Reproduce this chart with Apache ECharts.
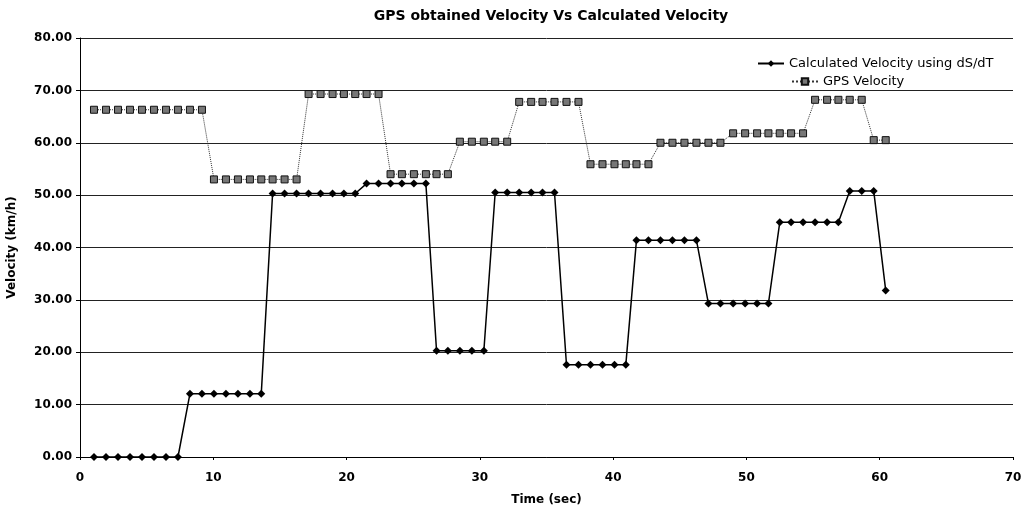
<!DOCTYPE html>
<html>
<head>
<meta charset="utf-8">
<title>GPS obtained Velocity Vs Calculated Velocity</title>
<script src="https://cdn.jsdelivr.net/npm/echarts@6/dist/echarts.min.js"></script>
<style>
  html, body { margin: 0; padding: 0; background: #fff; }
  #chart { width: 1021px; height: 508px; }
</style>
</head>
<body>
<div id="chart"></div>
<script>
'use strict';

// time stamps (sec), shared by both series
var timeSec = [
    1.05, 1.95, 2.85, 3.75, 4.65, 5.55, 6.45, 7.35,
    8.25, 9.15, 10.05, 10.95, 11.85, 12.75, 13.6,
    14.45, 15.35, 16.25, 17.15, 18.05, 18.95, 19.8, 20.65,
    21.5, 22.4, 23.3, 24.15, 25.05, 25.95,
    26.75, 27.6, 28.5, 29.4, 30.3,
    31.15, 32.05, 32.95, 33.85, 34.7, 35.6,
    36.5, 37.4, 38.3, 39.2, 40.1, 40.95,
    41.75, 42.65, 43.55, 44.45, 45.35, 46.25,
    47.15, 48.05, 49.0, 49.9, 50.8, 51.65,
    52.5, 53.35, 54.25, 55.15, 56.05, 56.9,
    57.75, 58.65, 59.55,
    60.45
];

// velocity calculated from dS/dT (km/h)
var calcVelocity = [
    0, 0, 0, 0, 0, 0, 0, 0,
    12.1, 12.1, 12.1, 12.1, 12.1, 12.1, 12.1,
    50.3, 50.3, 50.3, 50.3, 50.3, 50.3, 50.3, 50.3,
    52.2, 52.2, 52.2, 52.2, 52.2, 52.2,
    20.3, 20.3, 20.3, 20.3, 20.3,
    50.5, 50.5, 50.5, 50.5, 50.5, 50.5,
    17.6, 17.6, 17.6, 17.6, 17.6, 17.6,
    41.4, 41.4, 41.4, 41.4, 41.4, 41.4,
    29.3, 29.3, 29.3, 29.3, 29.3, 29.3,
    44.8, 44.8, 44.8, 44.8, 44.8, 44.8,
    50.8, 50.8, 50.8,
    31.8
];

// velocity reported by GPS (km/h)
var gpsVelocity = [
    66.3, 66.3, 66.3, 66.3, 66.3, 66.3, 66.3, 66.3, 66.3, 66.3,
    53.0, 53.0, 53.0, 53.0, 53.0, 53.0, 53.0, 53.0,
    69.3, 69.3, 69.3, 69.3, 69.3, 69.3, 69.3,
    54.0, 54.0, 54.0, 54.0, 54.0, 54.0,
    60.2, 60.2, 60.2, 60.2, 60.2,
    67.8, 67.8, 67.8, 67.8, 67.8, 67.8,
    55.9, 55.9, 55.9, 55.9, 55.9, 55.9,
    60.0, 60.0, 60.0, 60.0, 60.0, 60.0,
    61.8, 61.8, 61.8, 61.8, 61.8, 61.8, 61.8,
    68.2, 68.2, 68.2, 68.2, 68.2,
    60.5, 60.5
];

var seriesNames = ['Calculated Velocity using dS/dT', 'GPS Velocity'];

function zip(xs, ys) {
    var out = [];
    for (var i = 0; i < xs.length; i++) {
        out.push([xs[i], ys[i]]);
    }
    return out;
}

var font = 'DejaVu Sans';
var chart = echarts.init(document.getElementById('chart'), null, {renderer: 'canvas'});

chart.setOption({
    animation: false,
    backgroundColor: '#fff',
    title: {
        text: 'GPS obtained Velocity Vs Calculated Velocity',
        left: 546,
        textAlign: 'center',
        top: 4,
        textStyle: {fontFamily: font, fontSize: 14, fontWeight: 'bold', color: '#000'}
    },
    legend: [{
        data: [seriesNames[0]],
        orient: 'vertical',
        left: 752,
        top: 52,
        itemWidth: 26,
        itemHeight: 8,
        textStyle: {fontFamily: font, fontSize: 13, color: '#000'}
    }, {
        data: [seriesNames[1]],
        orient: 'vertical',
        left: 786,
        top: 70,
        itemWidth: 26,
        itemHeight: 8,
        textStyle: {fontFamily: font, fontSize: 13, color: '#000'}
    }],
    grid: {left: 80, right: 8, top: 38, bottom: 51, outerBoundsMode: 'none', containLabel: false},
    xAxis: {
        type: 'value',
        min: 0,
        max: 70,
        interval: 10,
        name: 'Time (sec)',
        nameLocation: 'middle',
        nameGap: 37,
        nameTextStyle: {fontFamily: font, fontSize: 12, fontWeight: 'bold', color: '#000'},
        axisLine: {lineStyle: {color: '#000', width: 1}},
        axisTick: {show: true, length: 3, lineStyle: {color: '#000'}},
        axisLabel: {fontFamily: font, fontSize: 12, fontWeight: 'bold', color: '#000', margin: 15},
        splitLine: {show: false}
    },
    yAxis: {
        type: 'value',
        min: 0,
        max: 80,
        interval: 10,
        name: 'Velocity (km/h)',
        nameLocation: 'middle',
        nameRotate: 90,
        nameGap: 62,
        nameTextStyle: {fontFamily: font, fontSize: 12, fontWeight: 'bold', color: '#000'},
        axisLine: {show: true, lineStyle: {color: '#000', width: 1}},
        axisTick: {show: true, length: 4, lineStyle: {color: '#000'}},
        axisLabel: {
            fontFamily: font, fontSize: 12, fontWeight: 'bold', color: '#000', margin: 8,
            formatter: function (v) { return v.toFixed(2); }
        },
        splitLine: {show: true, lineStyle: {color: '#222', width: 1}}
    },
    series: [{
        name: seriesNames[0],
        type: 'line',
        data: zip(timeSec, calcVelocity),
        symbol: 'diamond',
        symbolSize: 8,
        itemStyle: {color: '#000'},
        lineStyle: {color: '#000', width: 1.5},
        z: 3
    }, {
        name: seriesNames[1],
        type: 'line',
        data: zip(timeSec, gpsVelocity),
        symbol: 'rect',
        symbolSize: 7,
        itemStyle: {color: '#777', borderColor: '#111', borderWidth: 1},
        lineStyle: {color: '#333', width: 1, type: 'dotted'},
        z: 2
    }]
});
</script>
</body>
</html>
